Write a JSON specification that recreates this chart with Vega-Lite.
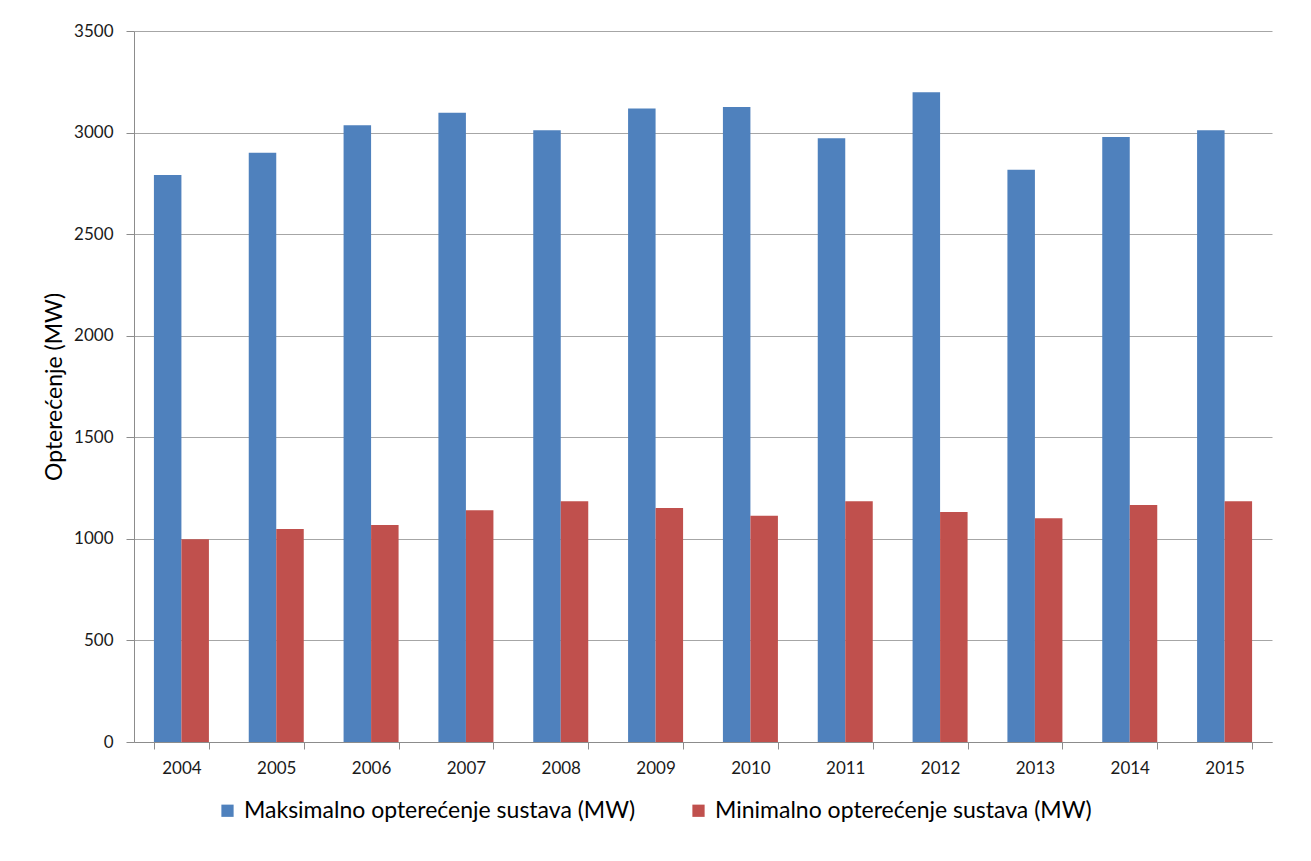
{
  "$schema": "https://vega.github.io/schema/vega-lite/v6.json",
  "width": 1138,
  "height": 711,
  "autosize": {"type": "none"},
  "padding": {"left": 134, "top": 31, "right": 39, "bottom": 119},
  "background": "white",
  "config": {"view": {"stroke": null}, "font": "Lato"},
  "data": {
    "values": [
      {"year": "2004", "series": "Maksimalno opterećenje sustava (MW)", "value": 2791},
      {"year": "2004", "series": "Minimalno opterećenje sustava (MW)", "value": 998},
      {"year": "2005", "series": "Maksimalno opterećenje sustava (MW)", "value": 2901},
      {"year": "2005", "series": "Minimalno opterećenje sustava (MW)", "value": 1048},
      {"year": "2006", "series": "Maksimalno opterećenje sustava (MW)", "value": 3036},
      {"year": "2006", "series": "Minimalno opterećenje sustava (MW)", "value": 1068},
      {"year": "2007", "series": "Maksimalno opterećenje sustava (MW)", "value": 3098},
      {"year": "2007", "series": "Minimalno opterećenje sustava (MW)", "value": 1141},
      {"year": "2008", "series": "Maksimalno opterećenje sustava (MW)", "value": 3011},
      {"year": "2008", "series": "Minimalno opterećenje sustava (MW)", "value": 1185},
      {"year": "2009", "series": "Maksimalno opterećenje sustava (MW)", "value": 3119},
      {"year": "2009", "series": "Minimalno opterećenje sustava (MW)", "value": 1152},
      {"year": "2010", "series": "Maksimalno opterećenje sustava (MW)", "value": 3126},
      {"year": "2010", "series": "Minimalno opterećenje sustava (MW)", "value": 1114},
      {"year": "2011", "series": "Maksimalno opterećenje sustava (MW)", "value": 2972},
      {"year": "2011", "series": "Minimalno opterećenje sustava (MW)", "value": 1185},
      {"year": "2012", "series": "Maksimalno opterećenje sustava (MW)", "value": 3198},
      {"year": "2012", "series": "Minimalno opterećenje sustava (MW)", "value": 1132},
      {"year": "2013", "series": "Maksimalno opterećenje sustava (MW)", "value": 2817},
      {"year": "2013", "series": "Minimalno opterećenje sustava (MW)", "value": 1101},
      {"year": "2014", "series": "Maksimalno opterećenje sustava (MW)", "value": 2978},
      {"year": "2014", "series": "Minimalno opterećenje sustava (MW)", "value": 1167},
      {"year": "2015", "series": "Maksimalno opterećenje sustava (MW)", "value": 3011},
      {"year": "2015", "series": "Minimalno opterećenje sustava (MW)", "value": 1185}
    ]
  },
  "mark": {"type": "bar"},
  "encoding": {
    "x": {
      "field": "year",
      "type": "nominal",
      "scale": {"paddingInner": 0.42, "paddingOuter": 0.21},
      "axis": {
        "title": null,
        "labelAngle": 0,
        "tickBand": "extent",
        "domainColor": "#8c8c8c",
        "tickColor": "#8c8c8c",
        "tickSize": 7,
        "labelPadding": 11,
        "labelFontSize": 17,
        "labelColor": "#1a1a1a",
        "grid": false
      }
    },
    "xOffset": {
      "field": "series",
      "type": "nominal",
      "sort": ["Maksimalno opterećenje sustava (MW)", "Minimalno opterećenje sustava (MW)"],
      "scale": {"paddingInner": 0, "paddingOuter": 0}
    },
    "y": {
      "field": "value",
      "type": "quantitative",
      "scale": {"domain": [0, 3500], "nice": false},
      "axis": {
        "title": "Opterećenje (MW)",
        "values": [0, 500, 1000, 1500, 2000, 2500, 3000, 3500],
        "format": "d",
        "grid": true,
        "gridColor": "#a6a6a6",
        "domainColor": "#8c8c8c",
        "tickColor": "#8c8c8c",
        "tickSize": 8,
        "labelPadding": 13,
        "labelFontSize": 17,
        "labelColor": "#1a1a1a",
        "titleFontSize": 23,
        "titleFontWeight": "normal",
        "titleColor": "#000000",
        "titlePadding": 7
      }
    },
    "color": {
      "field": "series",
      "type": "nominal",
      "scale": {
        "domain": ["Maksimalno opterećenje sustava (MW)", "Minimalno opterećenje sustava (MW)"],
        "range": ["#4F81BD", "#C0504D"]
      },
      "legend": {
        "title": null,
        "orient": "none",
        "legendX": 82,
        "legendY": 768,
        "direction": "horizontal",
        "columns": 2,
        "columnPadding": 51,
        "symbolType": "square",
        "symbolSize": 150,
        "symbolStrokeWidth": 0,
        "labelFontSize": 23,
        "labelColor": "#000000",
        "labelOffset": 5,
        "labelLimit": 600
      }
    }
  }
}
